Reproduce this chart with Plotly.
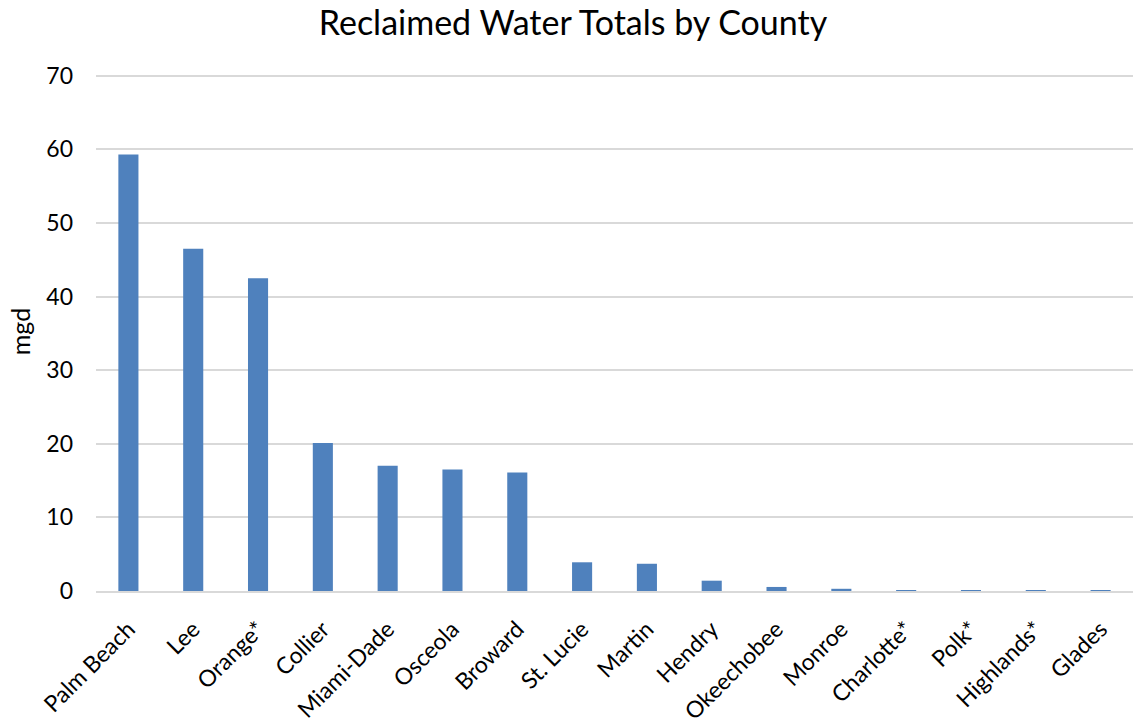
import plotly.graph_objects as go

counties = ["Palm Beach", "Lee", "Orange*", "Collier", "Miami-Dade", "Osceola", "Broward",
            "St. Lucie", "Martin", "Hendry", "Okeechobee", "Monroe", "Charlotte*", "Polk*",
            "Highlands*", "Glades"]
mgd = [59.3, 46.5, 42.5, 20.1, 17.0, 16.5, 16.1, 3.9, 3.7, 1.4, 0.55, 0.3, 0.12, 0.1, 0.03, 0.02]
y_ticks = [0, 10, 20, 30, 40, 50, 60, 70]

fig = go.Figure(go.Bar(x=counties, y=mgd, marker=dict(color="#4F81BD", line=dict(width=0))))

font = "Lato, Open Sans, Liberation Sans, sans-serif"
fig.update_layout(
    width=1146, height=725,
    paper_bgcolor="white", plot_bgcolor="white",
    margin=dict(l=96, r=13, t=72, b=134, autoexpand=False),
    bargap=0.69,
    showlegend=False,
    title=dict(text="Reclaimed Water Totals by County", x=0.5, xanchor="center",
               y=0.968, yanchor="middle", font=dict(family=font, size=34, color="black")),
    font=dict(family=font, size=22, color="black"),
)
fig.update_xaxes(tickangle=-45, showgrid=False, showline=True, linecolor="#D9D9D9",
                 linewidth=1.5, ticks="", tickfont=dict(size=23), ticklabelstandoff=14,
                 automargin=False)
fig.update_yaxes(range=[0, 70.5], tickvals=y_ticks, showgrid=True, gridcolor="#D9D9D9",
                 gridwidth=1.5, zeroline=False, showline=False, ticks="", ticklen=0,
                 tickfont=dict(size=23), ticklabelstandoff=22, automargin=False,
                 title=dict(text="mgd", font=dict(size=25), standoff=8))

fig.write_html("out.html", config={"displayModeBar": False},
               post_script="document.body.style.margin='0';")
